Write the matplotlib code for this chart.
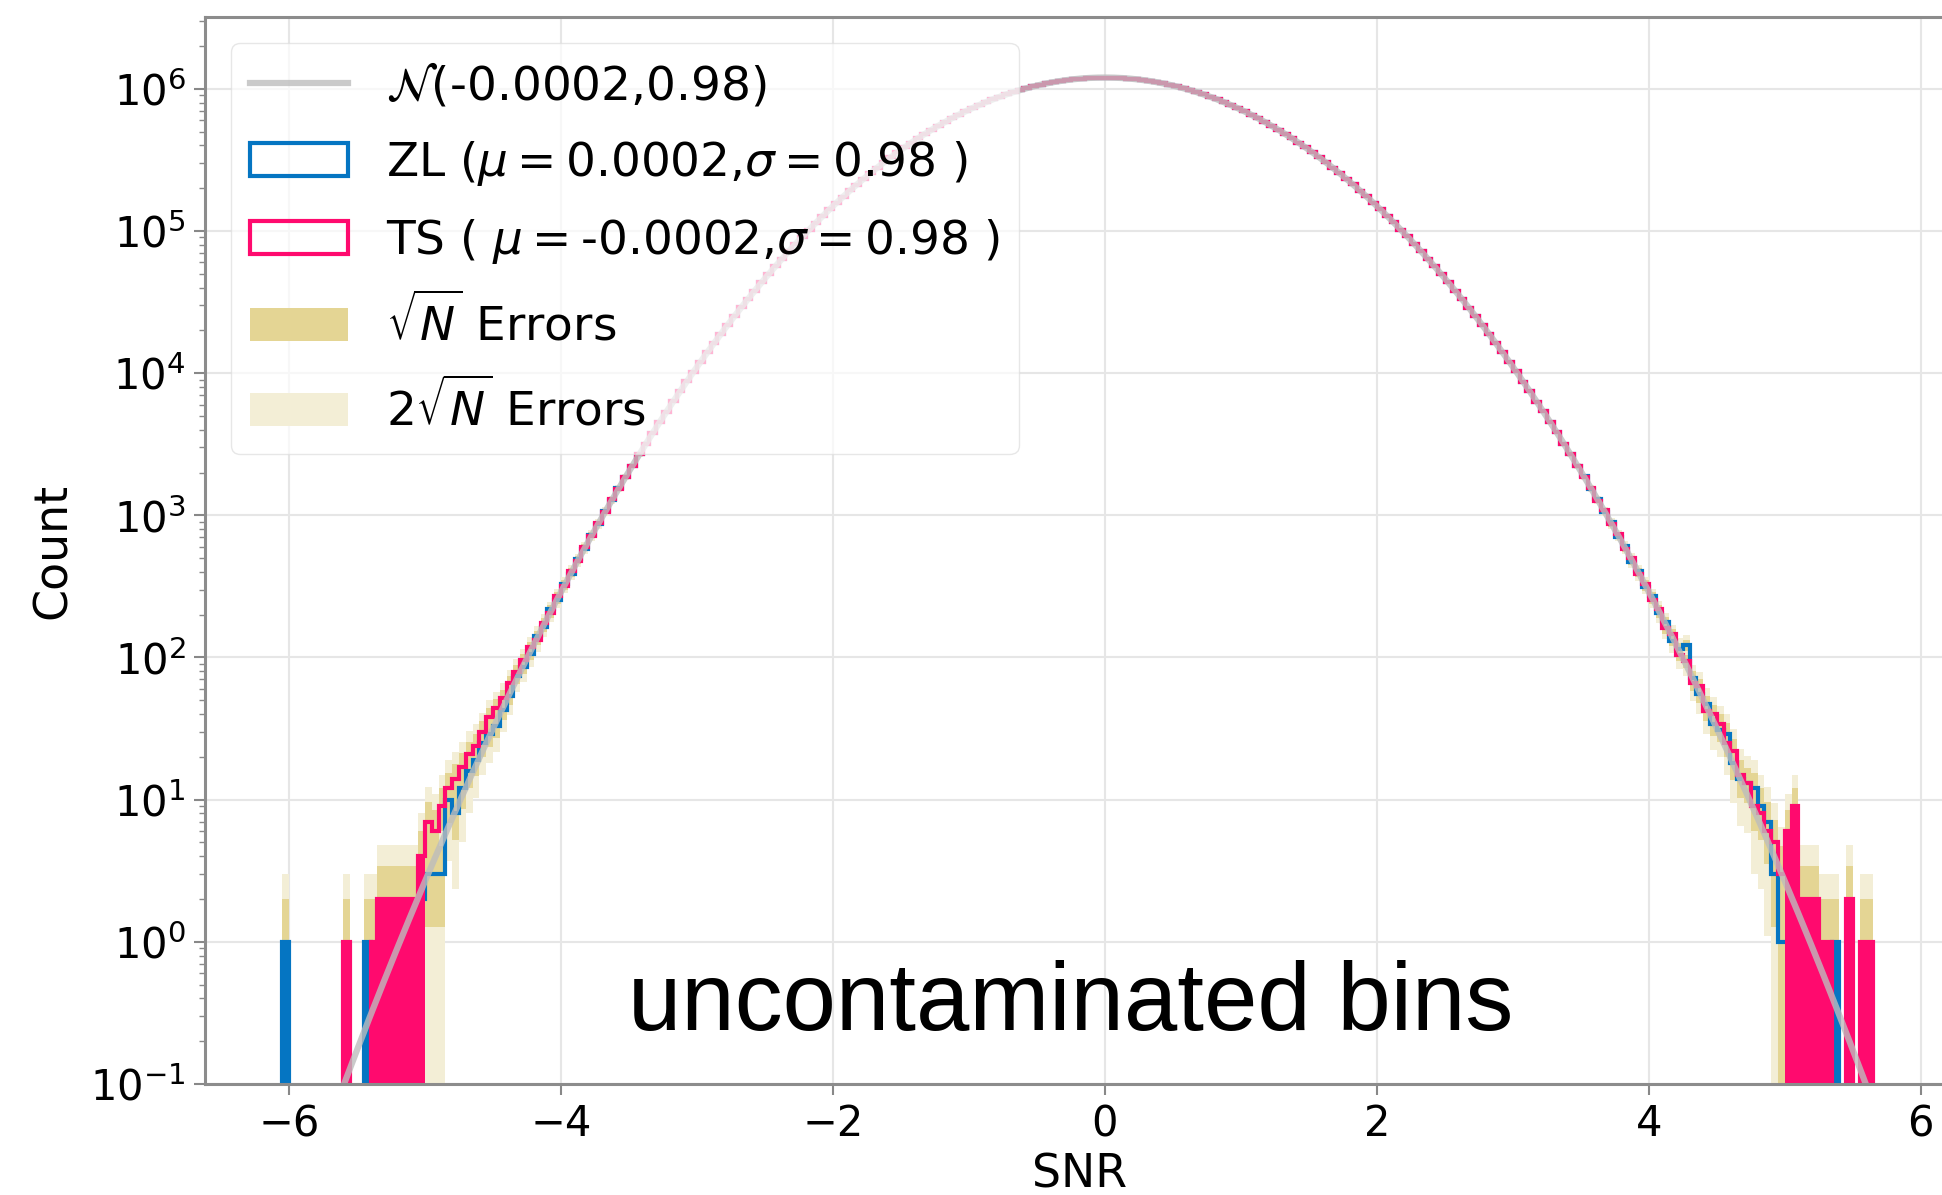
import numpy as np
import matplotlib
matplotlib.use('Agg')
import matplotlib.pyplot as plt
from matplotlib.patches import Patch
from matplotlib.ticker import LogLocator, NullFormatter

# SNR binning shared by both maps
bin_lo, bin_hi, n_bins = -6.10, 5.80, 238

# counts per bin for |SNR| < 3.5, where both maps agree
core_counts = [
    2239, 2680, 3198, 3808, 4521, 5354, 6322, 7449, 8755, 10260,
    11993, 13990, 16270, 18860, 21820, 25180, 28980, 33260, 38080, 43480,
    49530, 56270, 63740, 72020, 81160, 91280, 102350, 114500, 127700, 142100,
    157600, 174500, 192600, 212100, 232900, 255100, 278700, 303700, 330000, 357700,
    386800, 417200, 448700, 481400, 515100, 549700, 585100, 621100, 657700, 694600,
    731700, 768800, 805600, 842100, 877900, 912800, 946700, 979300, 1010400, 1039700,
    1067100, 1092400, 1115400, 1135900, 1153700, 1168800, 1181000, 1190300, 1196500, 1199800,
    1200100, 1196200, 1190600, 1180700, 1169100, 1153400, 1136200, 1115100, 1092700, 1066800,
    1040000, 1010100, 979600, 946400, 913100, 877600, 842400, 805300, 769100, 731400,
    694900, 657400, 621400, 584800, 550000, 514800, 481700, 448400, 417500, 386500,
    358000, 329700, 304000, 278400, 255400, 232600, 212400, 192300, 174800, 157300,
    142400, 127500, 114700, 102200, 91450, 81020, 72170, 63610, 56390, 49420,
    43580, 37990, 33350, 28900, 25250, 21760, 18920, 16220, 14040, 11950,
    10300, 8721, 7480, 6297, 5377, 4503, 3826, 3183, 2693, 2226,
]

# tails, SNR -6.10 .. -3.50
zl_left_tail = [
    0, 1, 0, 0, 0, 0, 0, 0, 0, 0,
    0, 0, 0, 1, 0, 1, 1, 0, 1, 1,
    1, 2, 3, 3, 3, 10, 8, 12, 16, 19,
    25, 29, 33, 43, 54, 74, 86, 106, 142, 165,
    218, 255, 331, 389, 492, 582, 731, 866, 1078, 1275,
    1563, 1852,
]
ts_left_tail = [
    0, 0, 0, 0, 0, 0, 0, 0, 0, 0,
    1, 0, 0, 0, 1, 2, 2, 2, 2, 2,
    2, 4, 7, 6, 9, 12, 14, 17, 21, 24,
    30, 38, 44, 52, 66, 79, 96, 118, 133, 176,
    205, 270, 318, 404, 478, 601, 715, 889, 1052, 1297,
    1540, 1873,
]

# tails, SNR 3.50 .. 5.80
zl_right_tail = [
    1880, 1540, 1301, 1049, 891, 708, 606, 470, 405, 313,
    270, 204, 178, 131, 115, 122, 72, 55, 47, 34,
    31, 29, 18, 14, 13, 12, 9, 7, 3, 1,
    1, 0, 0, 0, 0, 0, 0, 1, 0, 0,
    0, 0, 0, 0, 0, 0,
]
ts_right_tail = [
    1851, 1566, 1270, 1081, 862, 735, 580, 497, 387, 331,
    254, 219, 160, 146, 104, 94, 66, 63, 42, 40,
    34, 25, 22, 15, 13, 9, 8, 6, 5, 3,
    6, 9, 2, 2, 2, 1, 1, 0, 0, 2,
    0, 1, 1, 0, 0, 0,
]

# Gaussian fit
fit_mu, fit_sigma, fit_peak = -0.0002, 0.98, 1.2e6
zl_mu, ts_mu = 0.0002, -0.0002

blue = '#0575c2'
pink = '#ff0a6e'
err1_color = '#e4d594'
err2_color = '#f3eed6'
fit_color = '#bdbdbd'

edges = np.linspace(bin_lo, bin_hi, n_bins + 1)
centers = 0.5 * (edges[:-1] + edges[1:])
zl = np.array(zl_left_tail + core_counts + zl_right_tail, dtype=float)
ts = np.array(ts_left_tail + core_counts + ts_right_tail, dtype=float)

fig = plt.figure(figsize=(19.42, 11.95), dpi=100)
ax = fig.add_axes([0.1056, 0.0929, 0.908, 0.8929])
ax.set_yscale('log')

# Poisson error bands
for k, col in ((2, err2_color), (1, err1_color)):
    for counts in (zl, ts):
        err = np.sqrt(counts)
        lo = np.append(counts - k * err, counts[-1] - k * err[-1])
        hi = np.append(counts + k * err, counts[-1] + k * err[-1])
        ax.fill_between(edges, lo, hi, step='post', color=col, lw=0)

# sparse outer bins drawn solid
sparse = np.abs(centers) > 5.0
ax.stairs(zl, edges, color=blue, lw=3)
ax.stairs(np.where(sparse, zl, 0), edges, fill=True, color=blue, lw=0)
ax.stairs(ts, edges, color=pink, lw=3)
ax.stairs(np.where(sparse, ts, 0), edges, fill=True, color=pink, lw=0)

xs = np.linspace(-6.6, 6.4, 3000)
ys = fit_peak * np.exp(-(xs - fit_mu) ** 2 / (2 * fit_sigma ** 2))
h_fit, = ax.plot(xs, ys, color=fit_color, lw=4.5, alpha=0.8)

ax.set_xlim(-6.618, 6.35)
ax.set_ylim(0.1, 3.2e6)
ax.set_xticks([-6, -4, -2, 0, 2, 4, 6])
ax.set_yticks([10.0 ** p for p in range(-1, 7)])
ax.yaxis.set_minor_locator(LogLocator(base=10, subs=np.arange(2, 10), numticks=100))
ax.yaxis.set_minor_formatter(NullFormatter())
ax.tick_params(axis='both', which='major', labelsize=30, length=8, width=1.5,
               color='#888888', pad=6)
ax.tick_params(axis='y', which='minor', length=4, width=1, color='#888888')
for sp in ax.spines.values():
    sp.set_color('#8c8c8c')
    sp.set_linewidth(2.2)

ax.grid(True, which='major', color='#e6e6e6', lw=1.5)
ax.set_axisbelow(True)

ax.set_xlabel('SNR', fontsize=33)
ax.set_ylabel('Count', fontsize=33)
ax.xaxis.set_label_coords(0.496, -0.064)
ax.yaxis.set_label_coords(-0.073, 0.5)

labels = [
    r'$\mathcal{N}$(-0.0002,0.98)',
    r'ZL ($\mu = $%.4f,$\sigma = $%.2f )' % (zl_mu, fit_sigma),
    r'TS ( $\mu = $%.4f,$\sigma = $%.2f )' % (ts_mu, fit_sigma),
    r'$\sqrt{N}$ Errors',
    r'2$\sqrt{N}$ Errors',
]
handles = [h_fit,
           Patch(facecolor='none', edgecolor=blue, lw=3),
           Patch(facecolor='none', edgecolor=pink, lw=3),
           Patch(facecolor=err1_color, edgecolor='none'),
           Patch(facecolor=err2_color, edgecolor='none')]
ax.legend(handles, labels, loc='upper left', fontsize=33.8, framealpha=0.7,
          borderaxespad=0.55, handlelength=2.1, labelspacing=0.62,
          edgecolor='#dddddd')

fig.text(0.5515, 0.138, 'uncontaminated bins', fontsize=69,
         family='Liberation Sans', ha='center', va='baseline', color='black')

fig.savefig('out.png', dpi=100)
